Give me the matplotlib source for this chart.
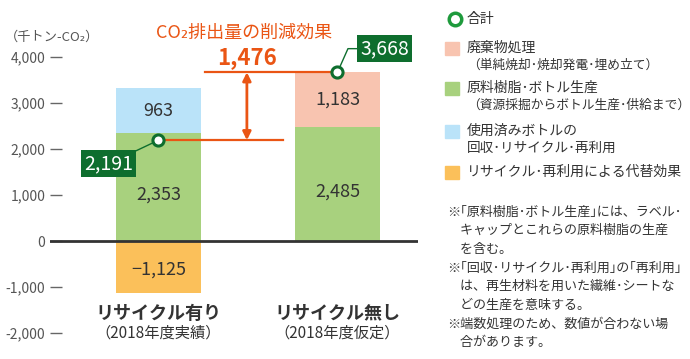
import matplotlib.pyplot as plt
from matplotlib.patches import Rectangle

plt.rcParams['font.family'] = ['Noto Sans CJK JP', 'DejaVu Sans']

# data
categories = ['リサイクル有り', 'リサイクル無し']
sub_labels = ['（2018年度実績）', '（2018年度仮定）']
resin = [2353, 2485]
recycle = [963, 0]
waste = [0, 1183]
substitution = [-1125, 0]
totals = [2191, 3668]
reduction = 1476
yticks = [-2000, -1000, 0, 1000, 2000, 3000, 4000]

legend_labels = [
    ('廃棄物処理', '（単純焼却･焼却発電･埋め立て）'),
    ('原料樹脂･ボトル生産', '（資源採掘からボトル生産･供給まで）'),
    ('使用済みボトルの', '回収･リサイクル･再利用'),
    ('リサイクル･再利用による代替効果', ''),
]
notes = [
    '※｢原料樹脂･ボトル生産｣には、ラベル･',
    '　キャップとこれらの原料樹脂の生産',
    '　を含む。',
    '※｢回収･リサイクル･再利用｣の｢再利用｣',
    '　は、再生材料を用いた繊維･シートな',
    '　どの生産を意味する。',
    '※端数処理のため、数値が合わない場',
    '　合があります。',
]

c_waste = '#F8C4B0'
c_resin = '#A8D17E'
c_recycle = '#BAE3F9'
c_sub = '#FBC05A'
c_dark = '#0E6E2E'
c_orange = '#EA5514'
c_text = '#333333'

fig = plt.figure(figsize=(6.9, 3.59), dpi=100)
ax = fig.add_axes([50 / 690, 7.6 / 359, 368 / 690, 322 / 359])
ax.set_xlim(-0.606, 1.45)
ax.set_ylim(-2400, 4600)
for s in ax.spines.values():
    s.set_visible(False)
ax.set_xticks([])
ax.set_yticks(yticks)
ax.set_yticklabels([f'{v:,}' for v in yticks], fontsize=10, color='#555555')
ax.tick_params(axis='y', direction='in', length=8.6, width=1, color='#666666', pad=3.5)

x = [0, 1]
w = 0.475
ax.bar(x, resin, w, color=c_resin, zorder=2)
ax.bar(x, recycle, w, bottom=resin, color=c_recycle, zorder=2)
ax.bar(x, waste, w, bottom=[r + c for r, c in zip(resin, recycle)], color=c_waste, zorder=2)
ax.bar(x, substitution, w, color=c_sub, zorder=2)
ax.axhline(0, color='#333333', lw=2, zorder=3)

# value labels
for i in x:
    ax.text(i, resin[i] * 0.43, f'{resin[i]:,}', ha='center', va='center', fontsize=13, color=c_text, zorder=4)
    if recycle[i]:
        ax.text(i, resin[i] + recycle[i] / 2, f'{recycle[i]:,}', ha='center', va='center',
                fontsize=13, color=c_text, zorder=4)
    if waste[i]:
        ax.text(i, resin[i] + recycle[i] + waste[i] / 2, f'{waste[i]:,}', ha='center', va='center',
                fontsize=13, color=c_text, zorder=4)
    if substitution[i]:
        ax.text(i, substitution[i] / 2 - 60, f'−{-substitution[i]:,}', ha='center', va='center',
                fontsize=13, color=c_text, zorder=4)

# category labels
for i in x:
    ax.text(i, 0.119, categories[i], transform=ax.get_xaxis_transform(), ha='center', va='center',
            fontsize=13, fontweight='bold', color=c_text)
    ax.text(i, 0.057, sub_labels[i], transform=ax.get_xaxis_transform(), ha='center', va='center',
            fontsize=11, color=c_text)

# reduction lines and arrow
mid = 0.494
ax.plot([0, 0.696], [totals[0], totals[0]], color=c_orange, lw=1.6, zorder=5)
ax.plot([0.26, 1], [totals[1], totals[1]], color=c_orange, lw=1.6, zorder=5)
ax.annotate('', xy=(mid, totals[1]), xytext=(mid, totals[0]),
            arrowprops=dict(arrowstyle='<|-|>', color=c_orange, lw=2, mutation_scale=12,
                            shrinkA=0, shrinkB=0), zorder=5)
ax.plot(x, totals, 'o', ms=8, mfc='white', mec=c_dark, mew=2.2, zorder=6, ls='none')

# total labels
ax.annotate(f'{totals[0]:,}', xy=(0, totals[0]), xytext=(-36, -17), textcoords='offset points',
            ha='center', va='center', fontsize=14, color='white',
            bbox=dict(boxstyle='square,pad=0.15', fc=c_dark, ec='none'),
            arrowprops=dict(arrowstyle='-', color=c_dark, lw=1, shrinkA=0, shrinkB=4), zorder=7)
ax.annotate(f'{totals[1]:,}', xy=(1, totals[1]), xytext=(34, 17), textcoords='offset points',
            ha='center', va='center', fontsize=14, color='white',
            bbox=dict(boxstyle='square,pad=0.15', fc=c_dark, ec='none'),
            arrowprops=dict(arrowstyle='-', color=c_dark, lw=1, shrinkA=0, shrinkB=4,
                            connectionstyle='angle,angleA=180,angleB=66,rad=0'), zorder=7)

# overlay for texts outside plot
ov = fig.add_axes([0, 0, 1, 1], zorder=5)
ov.set_xlim(0, 690)
ov.set_ylim(359, 0)
ov.axis('off')

ov.text(5, 37, '（千トン-CO₂）', fontsize=9.5, color='#555555', va='center', ha='left')
ov.text(244, 33, 'CO₂排出量の削減効果', fontsize=13, color=c_orange, ha='center', va='center')
ov.text(247, 58, f'{reduction:,}', fontsize=16, fontweight='bold', color=c_orange, ha='center', va='center')

# legend
ov.plot([455], [19], 'o', ms=9, mfc='white', mec='#1E9A3C', mew=2.5)
ov.text(467, 19, '合計', fontsize=10, color=c_text, va='center')
leg_colors = [c_waste, c_resin, c_recycle, c_sub]
leg_y = [48, 88, 131, 172]
for col, (l1, l2), yy in zip(leg_colors, legend_labels, leg_y):
    ov.add_patch(Rectangle((445, yy - 6.5), 14, 13, color=col))
    ov.text(467, yy, l1, fontsize=10, color=c_text, va='center')
    if l2:
        size = 9.2 if l2.startswith('（') else 9.8
        ov.text(467, yy + 17, l2, fontsize=size, color=c_text, va='center')

for k, line in enumerate(notes):
    ov.text(447, 212 + k * 18.7, line, fontsize=9.4, color=c_text, va='center')

fig.savefig('out.png', dpi=100)
